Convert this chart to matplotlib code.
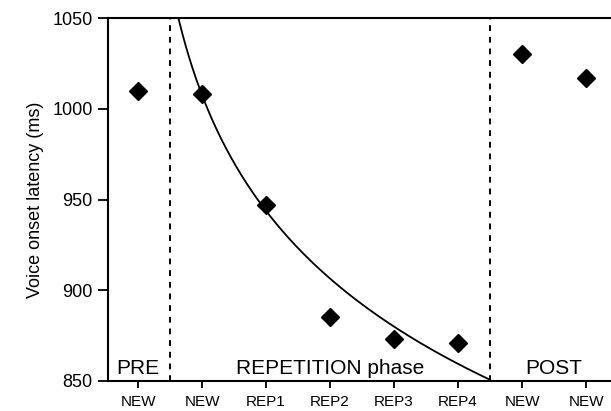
import numpy as np
import matplotlib
matplotlib.use("Agg")
import matplotlib.pyplot as plt

plt.rcParams['font.family'] = ['Liberation Sans', 'DejaVu Sans']

# Data
tick_labels = ["NEW", "NEW", "REP1", "REP2", "REP3", "REP4", "NEW", "NEW"]
latency = [1010, 1008, 947, 885, 873, 871, 1030, 1017]
phase_labels = ["PRE", "REPETITION phase", "POST"]
phase_centers = [0, 3, 6.5]
phase_bounds = [0.5, 5.5]
# fitted log curve: y = fit_a - fit_b * ln(x), over repetition phase
fit_a = 1007.5
fit_b = 92.0
fit_range = (0.6, 5.5)

fig = plt.figure(figsize=(6.11, 4.11), dpi=100)
ax = fig.add_axes([0.1768, 0.073, 1 - 0.1768, 0.956 - 0.073])

x = np.arange(len(latency))
ax.plot(x, latency, linestyle='none', marker='D', markersize=9.5,
        color='black', zorder=3)

xc = np.linspace(fit_range[0], fit_range[1], 300)
ax.plot(xc, fit_a - fit_b * np.log(xc), color='black', lw=1.3, zorder=2)

for b in phase_bounds:
    ax.axvline(b, color='black', lw=1.4, linestyle=(0, (3, 3)), zorder=1)

for lab, c in zip(phase_labels, phase_centers):
    ax.text(c, 854, lab, ha='center', va='baseline', fontsize=15)

ax.set_xlim(-0.47, 7.39)
ax.set_ylim(850, 1050)
ax.set_yticks([850, 900, 950, 1000, 1050])
ax.set_xticks(x)
ax.set_xticklabels(tick_labels)
ax.set_ylabel("Voice onset latency (ms)", fontsize=13, labelpad=6)

ax.spines['right'].set_visible(False)
for s in ['left', 'top', 'bottom']:
    ax.spines[s].set_linewidth(1.5)
ax.tick_params(axis='y', length=7, width=1.3, labelsize=13, pad=4)
ax.tick_params(axis='x', length=5, width=1.3, labelsize=11, pad=5)

fig.savefig("out.png", dpi=100)
